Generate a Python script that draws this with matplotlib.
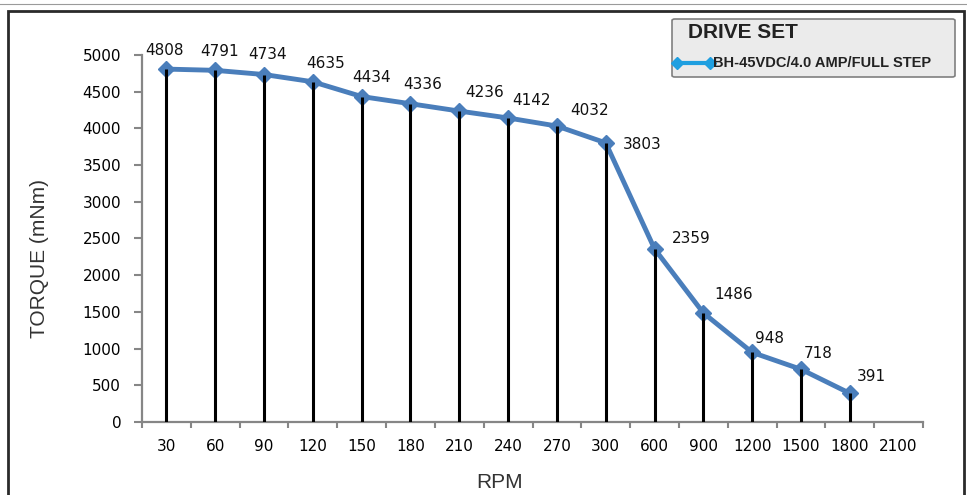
import numpy as np
import matplotlib
matplotlib.use('Agg')
import matplotlib.pyplot as plt
from matplotlib.patches import Rectangle, FancyBboxPatch
from matplotlib.lines import Line2D

# ---- data ----
rpm_labels = ['30', '60', '90', '120', '150', '180', '210', '240', '270', '300',
              '600', '900', '1200', '1500', '1800', '2100']
torque = [4808, 4791, 4734, 4635, 4434, 4336, 4236, 4142, 4032, 3803,
          2359, 1486, 948, 718, 391]
# label offsets in pixels (dx, dy) -- hand placed like the original sheet
lab_off = [(-2, 19), (4, 19), (4, 20), (13, 18), (10, 19), (12, 19), (25, 19),
           (23, 17), (33, 16), (36, -2), (37, 10), (30, 18), (17, 14), (17, 16), (22, 17)]

C_LINE = '#4a7ebb'; C_AXIS = '#868686'; C_LEG = '#1f9fe0'

fig = plt.figure(figsize=(9.67, 4.95), dpi=100)
ax = fig.add_axes([142/967, 1-422/495, (923-142)/967, (422-55)/495])

x = np.arange(len(torque))
ax.plot(x, torque, '-D', color=C_LINE, lw=3.5, ms=8.5, zorder=3)
ax.vlines(x, 0, torque, color='k', lw=2.2, zorder=4)
for xi, t, (dx, dy) in zip(x, torque, lab_off):
    ax.annotate(str(t), (xi, t), textcoords='offset pixels', xytext=(dx, dy),
                ha='center', va='center', fontsize=11, color='#111')

ax.set_xlim(-0.5, len(rpm_labels) - 0.5)
ax.set_ylim(0, 5000)
ax.set_yticks(np.arange(0, 5001, 500))
ax.set_xticks(np.arange(len(rpm_labels)))
ax.set_xticklabels(rpm_labels)
ax.set_xticks(np.arange(len(rpm_labels) + 1) - 0.5, minor=True)
ax.tick_params(axis='x', which='major', length=0, pad=12, labelsize=11)
ax.tick_params(axis='x', which='minor', length=4, width=1.5, color=C_AXIS)
ax.tick_params(axis='y', length=6, width=1.5, color=C_AXIS, pad=9, labelsize=11)
for s in ['top', 'right']:
    ax.spines[s].set_visible(False)
for s in ['left', 'bottom']:
    ax.spines[s].set_color(C_AXIS); ax.spines[s].set_linewidth(1.6)

fig.text(40/967, 1-258/495, 'TORQUE (mNm)', rotation=90, ha='center', va='center',
         fontsize=15, family='Liberation Sans', color='#333')
fig.text(500/967, 1-482/495, 'RPM', ha='center', va='center',
         fontsize=15, family='Liberation Sans', color='#333')

# outer frame
fig.patches.append(Rectangle((8/967, -0.05), (964-8)/967, 1.05-11/495, transform=fig.transFigure,
                             fill=False, ec='#2a2a2a', lw=2))
fig.lines.append(Line2D([0, 1], [1-4/495, 1-4/495], transform=fig.transFigure,
                        color='#9a9a9a', lw=0.8))

# legend box
fig.patches.append(FancyBboxPatch((672/967, 1-77/495), 283/967, 58/495, transform=fig.transFigure,
                                  boxstyle='round,pad=0,rounding_size=0.003',
                                  fc='#ebebeb', ec='#808080', lw=1.2))
fig.text(688/967, 1-33/495, 'DRIVE SET', ha='left', va='center', fontsize=15,
         fontweight='bold', family='Liberation Sans', color='#222')
fig.lines.append(Line2D([677/967, 710/967], [1-63/495, 1-63/495], transform=fig.transFigure,
                        color=C_LEG, lw=3, marker='D', ms=6.5, markevery=[0, 1]))
fig.text(713/967, 1-63/495, 'BH-45VDC/4.0 AMP/FULL STEP', ha='left', va='center', fontsize=10.5,
         fontweight='bold', family='Liberation Sans', color='#222')

fig.savefig('out.png', dpi=100)
